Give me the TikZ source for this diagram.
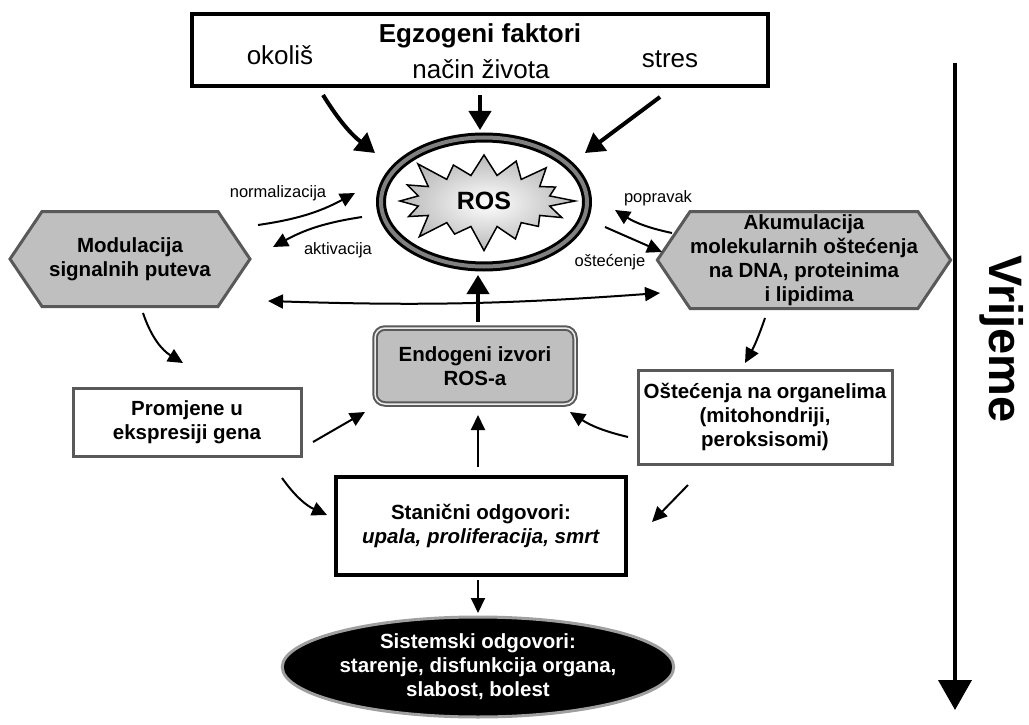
\documentclass[tikz,border=0pt]{standalone}
\usepackage{fontspec}
\setmainfont{Liberation Sans}
\usetikzlibrary{arrows.meta,calc,shapes.geometric,shapes.symbols}

\tikzset{
  bigarrow/.style={line width=4pt,-{Triangle[length=19pt,width=22pt]}},
  smallarrow/.style={line width=2pt,-{Triangle[length=15pt,width=14pt]}},
  dblarrow/.style={line width=2pt,{Triangle[length=15pt,width=14pt]}-{Triangle[length=15pt,width=14pt]}},
  steplabel/.style={font=\fontsize{16.5}{19}\selectfont},
  toptext/.style={anchor=base,font=\fontsize{26}{31}\selectfont},
  boxtext/.style={align=center,font=\fontsize{20.5}{24}\selectfont\bfseries},
  hexbox/.style={boxtext,signal,signal to=west and east,signal pointer angle=112,
    fill=gray!50,draw=black!65,line width=3pt,inner sep=0pt},
  whitebox/.style={boxtext,rectangle,fill=white,draw=black!65,line width=3pt},
}

\begin{document}
\begin{tikzpicture}[x=1pt,y=-1pt]
  \useasboundingbox (0,0) rectangle (1029,725);
  \node[draw,line width=4pt,minimum width=576pt,minimum height=72pt] (egzo) at (480,50) {};
  \node[toptext,font=\fontsize{26}{31}\selectfont\bfseries] (egzotitle) at (480,43) {Egzogeni faktori};
  \node[toptext] (okolis) at (280,65) {okoliš};
  \node[toptext] (nacin) at (481,78) {način života};
  \node[toptext] (stres) at (670,67) {stres};

  \node[ellipse,draw,line width=3pt,double=gray,double distance=4pt,fill=white,
    minimum width=206pt,minimum height=129pt] (ros) at (484,202) {};
  \node[starburst,draw,line width=1.5pt,shade,shading=radial,inner color=white,outer color=gray!55,
    minimum width=190pt,minimum height=108pt,starburst points=16,starburst point height=28pt,
    font=\fontsize{25}{30}\selectfont\bfseries] (burst) at (484,201) {ROS};

  \node[steplabel] (norm) at (278,193) {normalizacija};
  \node[steplabel] (aktiv) at (338,250) {aktivacija};
  \node[steplabel] (poprav) at (658,198) {popravak};
  \node[steplabel] (ostec) at (610,262) {oštećenje};

  \node[hexbox,minimum width=240pt,minimum height=95pt] (modul) at (130,259) {Modulacija\\signalnih puteva};
  \node[hexbox,minimum width=262pt,minimum height=97pt] (akum) at (804,260)
    {Akumulacija\\molekularnih oštećenja\\na DNA, proteinima\\\hspace{10pt}i lipidima};

  \node[boxtext,rounded corners=10pt,fill=gray!50,draw=black!65,line width=2pt,double=gray!15,
    double distance=1.5pt,minimum width=200pt,minimum height=76pt] (endo) at (475,366) {Endogeni izvori\\ROS-a};
  \node[whitebox,minimum width=228pt,minimum height=68pt] (promj) at (187,422) {Promjene u\\ekspresiji gena};
  \node[whitebox,minimum width=254pt,minimum height=94pt] (organ) at (765,417)
    {Oštećenja na organelima\\(mitohondriji,\\peroksisomi)};
  \node[boxtext,draw,line width=4pt,fill=white,minimum width=290pt,minimum height=98pt] (stan) at (481,526)
    {Stanični odgovori:\\\textit{upala, proliferacija, smrt}};
  \node[boxtext,ellipse,fill=black,draw=gray!75,line width=3pt,text=white,inner sep=0pt,
    minimum width=387pt,minimum height=100pt] (sist) at (478,667)
    {Sistemski odgovori:\\starenje, disfunkcija organa,\\slabost, bolest};

  \node[rotate=-90,font=\fontsize{47}{56}\selectfont\bfseries] (vrijeme) at (1002,339) {Vrijeme};
  \coordinate (tstart) at (955,63);
  \coordinate (tend) at (955,710);
  \draw[line width=4pt,-{Triangle[length=30pt,width=33pt]}] (tstart) -- (tend);

  \draw[bigarrow] ($(egzo)+(-157,45)$) to[bend right=10] ($(ros)+(-109,-49)$);
  \draw[bigarrow] ($(egzo)+(0,45)$) -- ($(ros)+(-4,-72)$);
  \draw[bigarrow] ($(egzo)+(180,47)$) -- ($(ros)+(101,-49)$);
  \draw[bigarrow] ($(endo)+(3,-44)$) -- ($(ros)+(-6,73)$);

  \draw[smallarrow] ($(modul)+(128,-34)$) to[bend right=10] ($(ros)+(-129,-9)$);
  \draw[smallarrow] ($(ros)+(-122,15)$) to[bend right=10] ($(modul)+(143,-12)$);
  \draw[smallarrow] ($(akum)+(-132,-27)$) to[bend left=10] ($(ros)+(131,8)$);
  \draw[smallarrow] ($(ros)+(121,25)$) -- ($(akum)+(-142,-8)$);
  \draw[dblarrow] ($(modul)+(138,42)$) to[bend right=3] ($(akum)+(-144,33)$);

  \draw[smallarrow] ($(modul)+(13,54)$) to[bend right=20] ($(promj)+(-4,-59)$);
  \draw[smallarrow] ($(promj)+(126,20)$) -- ($(endo)+(-110,46)$);
  \draw[smallarrow] ($(akum)+(-39,58)$) to[bend left=5] ($(organ)+(-20,-54)$);
  \draw[smallarrow] ($(organ)+(-137,20)$) to[bend left=10] ($(endo)+(95,46)$);
  \draw[smallarrow] ($(stan)+(-3,-59)$) -- ($(endo)+(3,49)$);
  \draw[smallarrow] ($(promj)+(95,56)$) to[bend right=15] ($(stan)+(-154,-11)$);
  \draw[smallarrow] ($(organ)+(-77,68)$) -- ($(stan)+(171,-4)$);
  \draw[smallarrow] ($(stan)+(-3,54)$) -- ($(sist)+(0,-54)$);
\end{tikzpicture}
\end{document}
